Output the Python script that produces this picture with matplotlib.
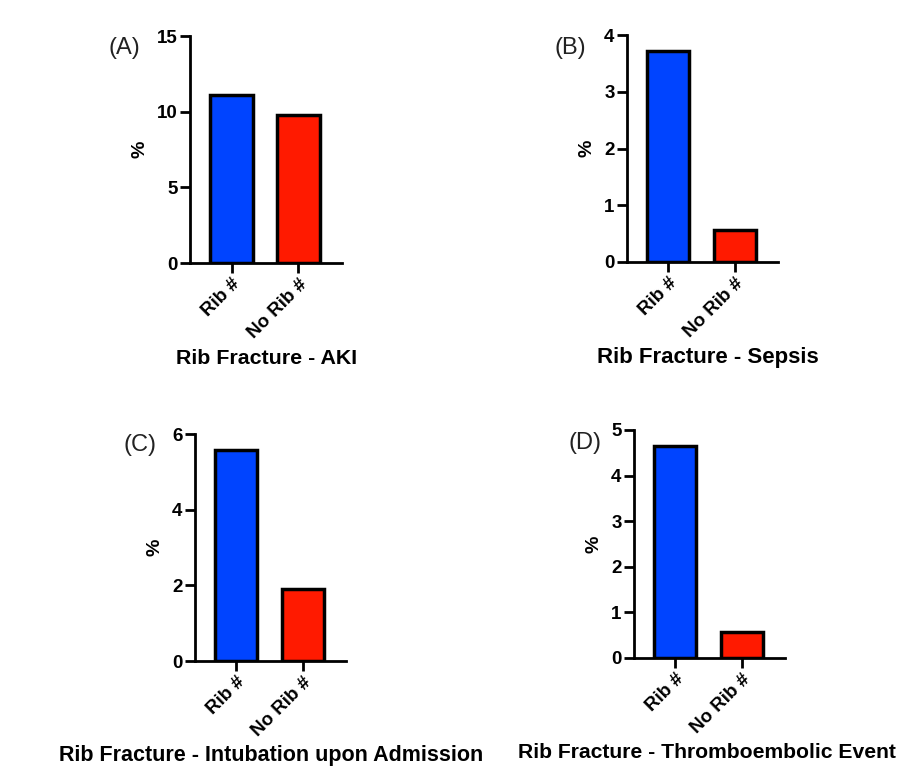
import numpy as np
import matplotlib.pyplot as plt

groups = ["Rib #", "No Rib #"]
panel_tags = ["(A)", "(B)", "(C)", "(D)"]
titles = ["Rib Fracture - AKI", "Rib Fracture - Sepsis",
          "Rib Fracture - Intubation upon Admission",
          "Rib Fracture - Thromboembolic Event"]
aki = [11.1, 9.8]
sepsis = [3.72, 0.57]
intubation = [5.58, 1.9]
thrombo = [4.64, 0.57]
ymax = [15, 4, 6, 5]
ystep = [5, 1, 2, 1]
colors = ["#0044ff", "#ff1a00"]

W, H = 905, 769
fig = plt.figure(figsize=(W / 100, H / 100), dpi=100)
plt.rcParams['font.family'] = ['Liberation Sans', 'DejaVu Sans']

# axes boxes in pixels: left, top, right, bottom
boxes = [(190, 36, 342, 263), (627, 35, 778, 262),
         (195, 434, 346, 661), (634, 430, 785, 658)]
tag_pos = [(124, 48), (570, 48), (140, 445), (585, 443)]
title_pos = [(267, 358), (708, 358), (271, 755), (707, 753)]
title_size = [15.4, 16, 15.5, 15.2]

for i, vals in enumerate([aki, sepsis, intubation, thrombo]):
    l, t, r, b = boxes[i]
    ax = fig.add_axes([l / W, 1 - b / H, (r - l) / W, (b - t) / H])
    ax.bar([0, 1], vals, width=0.63, color=colors, edgecolor="black", linewidth=2.5)
    ax.set_xlim(-0.62, 1.65)
    ax.set_ylim(0, ymax[i])
    ax.set_yticks(np.arange(0, ymax[i] + 0.1, ystep[i]))
    ax.set_xticks([0, 1])
    ax.set_xticklabels(groups, rotation=45, ha="right", rotation_mode="anchor",
                       fontsize=13.5, fontweight="bold")
    for lab in ax.get_yticklabels():
        lab.set_fontweight("bold")
        lab.set_fontsize(13.5)
    ax.set_ylabel("%", fontsize=14, fontweight="bold", labelpad=6)
    ax.spines[["top", "right"]].set_visible(False)
    for s in ["left", "bottom"]:
        ax.spines[s].set_linewidth(2)
    ax.tick_params(width=2, length=7, direction="out", pad=2)
    fig.text(tag_pos[i][0] / W, 1 - tag_pos[i][1] / H, panel_tags[i],
             fontsize=17, color="#222222", ha="center", va="center")
    fig.text(title_pos[i][0] / W, 1 - title_pos[i][1] / H, titles[i],
             fontsize=title_size[i], fontweight="bold", ha="center", va="center")

fig.savefig("out.png", dpi=100, facecolor="white")
